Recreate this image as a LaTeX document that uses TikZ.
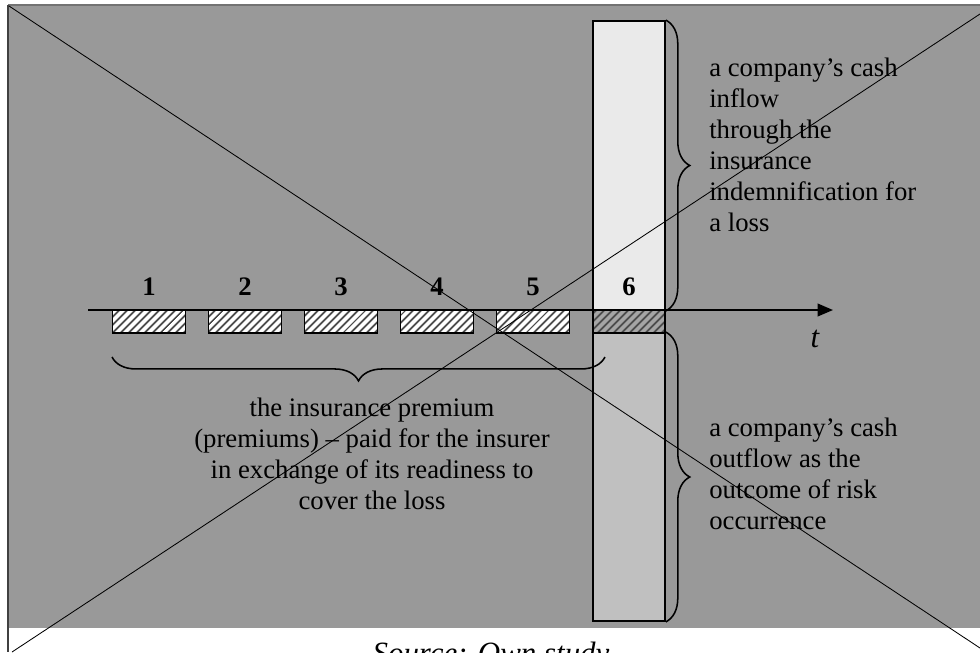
\documentclass[tikz,border=0pt]{standalone}
\usepackage{fontspec}
\setmainfont{Liberation Serif}
\usetikzlibrary{arrows.meta,patterns.meta,decorations.pathreplacing}
\definecolor{panelgray}{RGB}{153,153,153}
\definecolor{inflowgray}{RGB}{234,234,234}
\definecolor{outflowgray}{RGB}{192,192,192}
\definecolor{hatchgray}{RGB}{165,165,165}
\begin{document}
\begin{tikzpicture}[x=0.025cm, y=-0.025cm,
    premium/.style={draw=black, line width=1pt, minimum width=1.825cm, minimum height=0.575cm, inner sep=0pt,
      preaction={fill=white}, pattern={Lines[angle=45,distance=4pt,line width=1.4pt]}, pattern color=black!70},
    num/.style={font=\fontsize{19}{22}\selectfont\bfseries, inner sep=0pt},
    note/.style={font=\fontsize{19}{22}\selectfont, align=left, inner sep=0pt},
    bar/.style={draw=black, line width=1.2pt, minimum width=1.8cm, inner sep=0pt},
    curly/.style={decorate, decoration={brace, amplitude=17pt}, line width=1.1pt},
    cross/.style={line width=0.6pt}]
  \useasboundingbox (0,0) rectangle (980,652);
  % panel
  \fill[panelgray] (9,6) rectangle (980,628);
  \draw[black!55, line width=1.2pt] (8,5) -- (980,5);
  \draw[black!75, line width=1.5pt] (8,5) -- (8,652);

  % the bar
  \node[bar, fill=inflowgray, minimum height=7.225cm] (inflow) at (629,165.5) {};
  \node[bar, fill=outflowgray, minimum height=7.2cm] (outflow) at (629,477) {};

  % premiums
  \foreach \i in {1,...,5} {
    \node[premium] (b\i) at ({53+96*\i},321.5) {};
    \node[num] (n\i) at ({53+96*\i},287) {\i};
  }
  \node[premium, preaction={fill=hatchgray}, minimum width=1.8cm] (b6) at (629,321.5) {};
  \node[num] (n6) at (629,287) {6};

  % time axis
  \coordinate (t0) at (88,310);
  \coordinate (t1) at (833,310);
  \draw[line width=1.4pt, -{Triangle[length=11pt,width=9pt]}] (t0) -- (t1);
  \node[font=\fontsize{22}{26}\selectfont\itshape, anchor=base] (tlabel) at (815,347) {t};

  % braces
  \draw[curly] (inflow.north east) -- (inflow.south east);
  \draw[curly] (outflow.north east) -- (outflow.south east);
  \coordinate (premstart) at (112,357);
  \coordinate (premend) at (605,357);
  \draw[curly] (premend) -- (premstart);

  % texts
  \node[note, anchor=north west] (inflowtxt) at (709,58) {a company’s cash\\inflow\\through the\\insurance\\indemnification for\\a loss};
  \node[note, anchor=north west] (outflowtxt) at (709,418) {a company’s cash\\outflow as the\\outcome of risk\\occurrence};
  \node[note, align=center, anchor=north] (premtxt) at (372,398) {the insurance premium\\(premiums) -- paid for the insurer\\in exchange of its readiness to\\cover the loss};
  \node[font=\fontsize{22}{26}\selectfont\itshape, anchor=base] (source) at (491,663) {Source: Own study};

  % crossing lines
  \coordinate (tl) at (9,6);
  \coordinate (br) at (980,648);
  \coordinate (bl) at (12,652);
  \coordinate (tr) at (980,14);
  \draw[cross] (tl) -- (br);
  \draw[cross] (bl) -- (tr);
\end{tikzpicture}
\end{document}
